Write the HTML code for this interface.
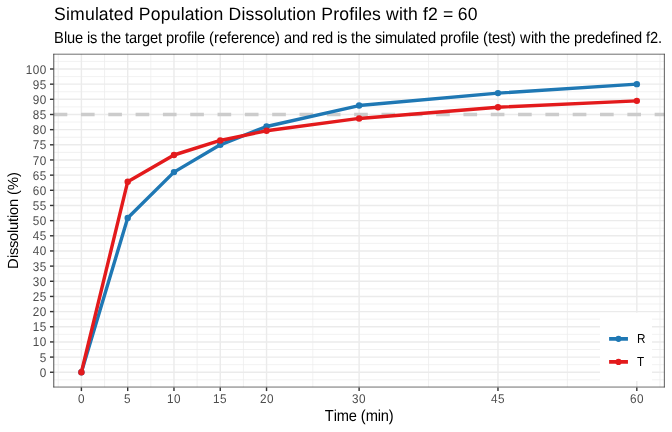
<!DOCTYPE html>
<html lang="en"><head><meta charset="utf-8"><title>Simulated Population Dissolution Profiles</title>
<style>html,body{margin:0;padding:0;background:#fff;overflow:hidden}svg{display:block;will-change:transform}text{font-family:"Liberation Sans",sans-serif;white-space:pre;text-rendering:geometricPrecision}</style></head><body>
<svg width="672" height="432" viewBox="0 0 672 432">
<rect width="672" height="432" fill="#fff"/>
<defs><clipPath id="panel"><rect x="53.63" y="53.84" width="610.94" height="333.56"/></clipPath></defs>
<g clip-path="url(#panel)">
<g stroke="#EBEBEB" stroke-width="0.71" fill="none">
<line x1="58.26" x2="58.26" y1="53.84" y2="387.4"/>
<line x1="104.54" x2="104.54" y1="53.84" y2="387.4"/>
<line x1="150.83" x2="150.83" y1="53.84" y2="387.4"/>
<line x1="197.11" x2="197.11" y1="53.84" y2="387.4"/>
<line x1="243.40" x2="243.40" y1="53.84" y2="387.4"/>
<line x1="312.82" x2="312.82" y1="53.84" y2="387.4"/>
<line x1="428.54" x2="428.54" y1="53.84" y2="387.4"/>
<line x1="567.39" x2="567.39" y1="53.84" y2="387.4"/>
<line x1="659.96" x2="659.96" y1="53.84" y2="387.4"/>
<line x1="53.63" x2="664.57" y1="379.83" y2="379.83"/>
<line x1="53.63" x2="664.57" y1="364.67" y2="364.67"/>
<line x1="53.63" x2="664.57" y1="349.51" y2="349.51"/>
<line x1="53.63" x2="664.57" y1="334.34" y2="334.34"/>
<line x1="53.63" x2="664.57" y1="319.18" y2="319.18"/>
<line x1="53.63" x2="664.57" y1="304.02" y2="304.02"/>
<line x1="53.63" x2="664.57" y1="288.86" y2="288.86"/>
<line x1="53.63" x2="664.57" y1="273.69" y2="273.69"/>
<line x1="53.63" x2="664.57" y1="258.53" y2="258.53"/>
<line x1="53.63" x2="664.57" y1="243.37" y2="243.37"/>
<line x1="53.63" x2="664.57" y1="228.21" y2="228.21"/>
<line x1="53.63" x2="664.57" y1="213.04" y2="213.04"/>
<line x1="53.63" x2="664.57" y1="197.88" y2="197.88"/>
<line x1="53.63" x2="664.57" y1="182.72" y2="182.72"/>
<line x1="53.63" x2="664.57" y1="167.56" y2="167.56"/>
<line x1="53.63" x2="664.57" y1="152.39" y2="152.39"/>
<line x1="53.63" x2="664.57" y1="137.23" y2="137.23"/>
<line x1="53.63" x2="664.57" y1="122.07" y2="122.07"/>
<line x1="53.63" x2="664.57" y1="106.91" y2="106.91"/>
<line x1="53.63" x2="664.57" y1="91.74" y2="91.74"/>
<line x1="53.63" x2="664.57" y1="76.58" y2="76.58"/>
<line x1="53.63" x2="664.57" y1="61.42" y2="61.42"/>
</g>
<g stroke="#EBEBEB" stroke-width="1.42" fill="none">
<line x1="81.40" x2="81.40" y1="53.84" y2="387.4"/>
<line x1="127.69" x2="127.69" y1="53.84" y2="387.4"/>
<line x1="173.97" x2="173.97" y1="53.84" y2="387.4"/>
<line x1="220.25" x2="220.25" y1="53.84" y2="387.4"/>
<line x1="266.54" x2="266.54" y1="53.84" y2="387.4"/>
<line x1="359.11" x2="359.11" y1="53.84" y2="387.4"/>
<line x1="497.97" x2="497.97" y1="53.84" y2="387.4"/>
<line x1="636.82" x2="636.82" y1="53.84" y2="387.4"/>
<line x1="53.63" x2="664.57" y1="372.25" y2="372.25"/>
<line x1="53.63" x2="664.57" y1="357.09" y2="357.09"/>
<line x1="53.63" x2="664.57" y1="341.93" y2="341.93"/>
<line x1="53.63" x2="664.57" y1="326.76" y2="326.76"/>
<line x1="53.63" x2="664.57" y1="311.60" y2="311.60"/>
<line x1="53.63" x2="664.57" y1="296.44" y2="296.44"/>
<line x1="53.63" x2="664.57" y1="281.27" y2="281.27"/>
<line x1="53.63" x2="664.57" y1="266.11" y2="266.11"/>
<line x1="53.63" x2="664.57" y1="250.95" y2="250.95"/>
<line x1="53.63" x2="664.57" y1="235.79" y2="235.79"/>
<line x1="53.63" x2="664.57" y1="220.62" y2="220.62"/>
<line x1="53.63" x2="664.57" y1="205.46" y2="205.46"/>
<line x1="53.63" x2="664.57" y1="190.30" y2="190.30"/>
<line x1="53.63" x2="664.57" y1="175.14" y2="175.14"/>
<line x1="53.63" x2="664.57" y1="159.97" y2="159.97"/>
<line x1="53.63" x2="664.57" y1="144.81" y2="144.81"/>
<line x1="53.63" x2="664.57" y1="129.65" y2="129.65"/>
<line x1="53.63" x2="664.57" y1="114.49" y2="114.49"/>
<line x1="53.63" x2="664.57" y1="99.32" y2="99.32"/>
<line x1="53.63" x2="664.57" y1="84.16" y2="84.16"/>
<line x1="53.63" x2="664.57" y1="69.00" y2="69.00"/>
</g>
<line x1="53.63" x2="664.57" y1="114.49" y2="114.49" stroke="#CCCCCC" stroke-width="3.41" stroke-dasharray="13.66 13.66"/>
<polyline points="81.40,372.25 127.69,217.99 173.97,172.10 220.25,144.81 266.54,126.47 359.11,105.54 497.97,93.11 636.82,84.16" fill="none" stroke="#1F78B4" stroke-width="3.41" stroke-linejoin="round" stroke-linecap="butt"/>
<circle cx="81.40" cy="372.25" r="3.2" fill="#1F78B4"/>
<circle cx="127.69" cy="217.99" r="3.2" fill="#1F78B4"/>
<circle cx="173.97" cy="172.10" r="3.2" fill="#1F78B4"/>
<circle cx="220.25" cy="144.81" r="3.2" fill="#1F78B4"/>
<circle cx="266.54" cy="126.47" r="3.2" fill="#1F78B4"/>
<circle cx="359.11" cy="105.54" r="3.2" fill="#1F78B4"/>
<circle cx="497.97" cy="93.11" r="3.2" fill="#1F78B4"/>
<circle cx="636.82" cy="84.16" r="3.2" fill="#1F78B4"/>
<polyline points="81.40,372.25 127.69,181.72 173.97,155.00 220.25,140.48 266.54,130.74 359.11,118.43 497.97,107.21 636.82,100.84" fill="none" stroke="#E31A1C" stroke-width="3.41" stroke-linejoin="round" stroke-linecap="butt"/>
<circle cx="81.40" cy="372.25" r="3.2" fill="#E31A1C"/>
<circle cx="127.69" cy="181.72" r="3.2" fill="#E31A1C"/>
<circle cx="173.97" cy="155.00" r="3.2" fill="#E31A1C"/>
<circle cx="220.25" cy="140.48" r="3.2" fill="#E31A1C"/>
<circle cx="266.54" cy="130.74" r="3.2" fill="#E31A1C"/>
<circle cx="359.11" cy="118.43" r="3.2" fill="#E31A1C"/>
<circle cx="497.97" cy="107.21" r="3.2" fill="#E31A1C"/>
<circle cx="636.82" cy="100.84" r="3.2" fill="#E31A1C"/>
<rect x="600" y="312.7" width="52" height="68.3" fill="#fff"/>
<line x1="609.1" x2="627.95" y1="338.85" y2="338.85" stroke="#1F78B4" stroke-width="3.9"/>
<circle cx="618.5" cy="338.85" r="3.1" fill="#1F78B4"/>
<text x="637" y="0" font-size="11.73" fill="#000" transform="translate(0,343) scale(1,1.115)">R</text>
<line x1="609.1" x2="627.95" y1="361.9" y2="361.9" stroke="#E31A1C" stroke-width="3.9"/>
<circle cx="618.5" cy="361.9" r="3.1" fill="#E31A1C"/>
<text x="637" y="0" font-size="11.73" fill="#000" transform="translate(0,366) scale(1,1.115)">T</text>
</g>
<g stroke="#333333" fill="none">
<line x1="53.36" x2="664.75" y1="54.2" y2="54.2" stroke-width="0.71"/>
<line x1="53.36" x2="664.75" y1="387.05" y2="387.05" stroke-width="0.71"/>
<line x1="53.78" x2="53.78" y1="53.84" y2="387.4" stroke-width="0.85"/>
<line x1="664.35" x2="664.35" y1="53.84" y2="387.4" stroke-width="0.8"/>
</g>
<g stroke="#333333" stroke-width="1.42">
<line x1="49.96" x2="53.63" y1="372.25" y2="372.25"/>
<line x1="49.96" x2="53.63" y1="357.09" y2="357.09"/>
<line x1="49.96" x2="53.63" y1="341.93" y2="341.93"/>
<line x1="49.96" x2="53.63" y1="326.76" y2="326.76"/>
<line x1="49.96" x2="53.63" y1="311.60" y2="311.60"/>
<line x1="49.96" x2="53.63" y1="296.44" y2="296.44"/>
<line x1="49.96" x2="53.63" y1="281.27" y2="281.27"/>
<line x1="49.96" x2="53.63" y1="266.11" y2="266.11"/>
<line x1="49.96" x2="53.63" y1="250.95" y2="250.95"/>
<line x1="49.96" x2="53.63" y1="235.79" y2="235.79"/>
<line x1="49.96" x2="53.63" y1="220.62" y2="220.62"/>
<line x1="49.96" x2="53.63" y1="205.46" y2="205.46"/>
<line x1="49.96" x2="53.63" y1="190.30" y2="190.30"/>
<line x1="49.96" x2="53.63" y1="175.14" y2="175.14"/>
<line x1="49.96" x2="53.63" y1="159.97" y2="159.97"/>
<line x1="49.96" x2="53.63" y1="144.81" y2="144.81"/>
<line x1="49.96" x2="53.63" y1="129.65" y2="129.65"/>
<line x1="49.96" x2="53.63" y1="114.49" y2="114.49"/>
<line x1="49.96" x2="53.63" y1="99.32" y2="99.32"/>
<line x1="49.96" x2="53.63" y1="84.16" y2="84.16"/>
<line x1="49.96" x2="53.63" y1="69.00" y2="69.00"/>
<line x1="81.40" x2="81.40" y1="387.4" y2="391.07"/>
<line x1="127.69" x2="127.69" y1="387.4" y2="391.07"/>
<line x1="173.97" x2="173.97" y1="387.4" y2="391.07"/>
<line x1="220.25" x2="220.25" y1="387.4" y2="391.07"/>
<line x1="266.54" x2="266.54" y1="387.4" y2="391.07"/>
<line x1="359.11" x2="359.11" y1="387.4" y2="391.07"/>
<line x1="497.97" x2="497.97" y1="387.4" y2="391.07"/>
<line x1="636.82" x2="636.82" y1="387.4" y2="391.07"/>
</g>
<text x="39.7" y="0" font-size="11.73" fill="#4D4D4D" transform="translate(0,376.88) scale(1,1.085)">0</text>
<text x="39.7" y="0" font-size="11.73" fill="#4D4D4D" transform="translate(0,361.88) scale(1,1.085)">5</text>
<text x="32.7 39.7" y="0" font-size="11.73" fill="#4D4D4D" transform="translate(0,345.88) scale(1,1.085)">10</text>
<text x="32.7 39.7" y="0" font-size="11.73" fill="#4D4D4D" transform="translate(0,330.88) scale(1,1.085)">15</text>
<text x="32.7 39.7" y="0" font-size="11.73" fill="#4D4D4D" transform="translate(0,315.88) scale(1,1.085)">20</text>
<text x="32.7 39.7" y="0" font-size="11.73" fill="#4D4D4D" transform="translate(0,300.88) scale(1,1.085)">25</text>
<text x="32.7 39.7" y="0" font-size="11.73" fill="#4D4D4D" transform="translate(0,285.88) scale(1,1.085)">30</text>
<text x="32.7 39.7" y="0" font-size="11.73" fill="#4D4D4D" transform="translate(0,270.88) scale(1,1.085)">35</text>
<text x="32.7 39.7" y="0" font-size="11.73" fill="#4D4D4D" transform="translate(0,254.88) scale(1,1.085)">40</text>
<text x="32.7 39.7" y="0" font-size="11.73" fill="#4D4D4D" transform="translate(0,239.88) scale(1,1.085)">45</text>
<text x="32.7 39.7" y="0" font-size="11.73" fill="#4D4D4D" transform="translate(0,224.88) scale(1,1.085)">50</text>
<text x="32.7 39.7" y="0" font-size="11.73" fill="#4D4D4D" transform="translate(0,209.88) scale(1,1.085)">55</text>
<text x="32.7 39.7" y="0" font-size="11.73" fill="#4D4D4D" transform="translate(0,194.88) scale(1,1.085)">60</text>
<text x="32.7 39.7" y="0" font-size="11.73" fill="#4D4D4D" transform="translate(0,179.88) scale(1,1.085)">65</text>
<text x="32.7 39.7" y="0" font-size="11.73" fill="#4D4D4D" transform="translate(0,164.88) scale(1,1.085)">70</text>
<text x="32.7 39.7" y="0" font-size="11.73" fill="#4D4D4D" transform="translate(0,148.88) scale(1,1.085)">75</text>
<text x="32.7 39.7" y="0" font-size="11.73" fill="#4D4D4D" transform="translate(0,133.88) scale(1,1.085)">80</text>
<text x="32.7 39.7" y="0" font-size="11.73" fill="#4D4D4D" transform="translate(0,118.88) scale(1,1.085)">85</text>
<text x="32.7 39.7" y="0" font-size="11.73" fill="#4D4D4D" transform="translate(0,103.88) scale(1,1.085)">90</text>
<text x="32.7 39.7" y="0" font-size="11.73" fill="#4D4D4D" transform="translate(0,88.88) scale(1,1.085)">95</text>
<text x="25.7 32.7 39.7" y="0" font-size="11.73" fill="#4D4D4D" transform="translate(0,73.88) scale(1,1.085)">100</text>
<text x="78" y="0" font-size="11.73" fill="#4D4D4D" transform="translate(0,402.88) scale(1,1.085)">0</text>
<text x="124" y="0" font-size="11.73" fill="#4D4D4D" transform="translate(0,402.88) scale(1,1.085)">5</text>
<text x="167 174" y="0" font-size="11.73" fill="#4D4D4D" transform="translate(0,402.88) scale(1,1.085)">10</text>
<text x="213 220" y="0" font-size="11.73" fill="#4D4D4D" transform="translate(0,402.88) scale(1,1.085)">15</text>
<text x="260 267" y="0" font-size="11.73" fill="#4D4D4D" transform="translate(0,402.88) scale(1,1.085)">20</text>
<text x="352 359" y="0" font-size="11.73" fill="#4D4D4D" transform="translate(0,402.88) scale(1,1.085)">30</text>
<text x="491 498" y="0" font-size="11.73" fill="#4D4D4D" transform="translate(0,402.88) scale(1,1.085)">45</text>
<text x="630 637" y="0" font-size="11.73" fill="#4D4D4D" transform="translate(0,402.88) scale(1,1.085)">60</text>
<text x="324.7 333.7 336.7 348.7 356.7 360.7 365.7 377.7 380.7 388.7" y="0" font-size="14.67" fill="#000" transform="translate(0,420.9) scale(1,1.09)">Time (min)</text>
<text x="-48.5 -37.5 -34.5 -27.5 -20.5 -12.5 -9.5 -1.5 2.5 5.5 13.5 21.5 25.5 30.5 43.5" y="0" font-size="14.67" fill="#000" transform="translate(18.1,220.6) rotate(-90)">Dissolution (%)</text>
<text x="54 65.97 69.96 84.91 94.89 98.87 108.85 113.83 123.8 133.78 138.76 150.73 160.7 170.67 180.64 184.63 194.61 199.59 203.58 213.55 223.52 228.51 241.47 245.46 254.44 263.41 273.38 277.37 287.34 292.33 296.32 306.29 316.26 321.25 333.22 339.2 349.17 354.16 358.15 362.13 372.11 381.08 386.07 399.03 403.02 408.01 417.98 422.96 427.95 437.92 442.91 452.88 457.87 467.84" y="0" font-size="17.6" fill="#000" transform="translate(0,19.9) scale(1,1.02)">Simulated Population Dissolution Profiles with f2 = 60</text>
<text x="54 64 67 75 83 87 90 97 101 105 113 121 125 129 137 142 150 158 162 166 174 179 187 191 194 197 205 209 214 219 227 231 239 244 252 260 267 275 280 284 292 300 308 312 317 325 333 337 340 347 351 355 363 371 375 382 385 397 405 408 416 420 428 436 440 448 453 461 465 468 471 479 483 488 492 500 507 511 516 520 531 534 538 546 550 554 562 570 574 582 587 595 603 611 615 618 626 634 642 646 650 658" y="0" font-size="14.67" fill="#000" transform="translate(0,42.85) scale(1,1.09)">Blue is the target profile (reference) and red is the simulated profile (test) with the predefined f2.</text>
</svg></body></html>
